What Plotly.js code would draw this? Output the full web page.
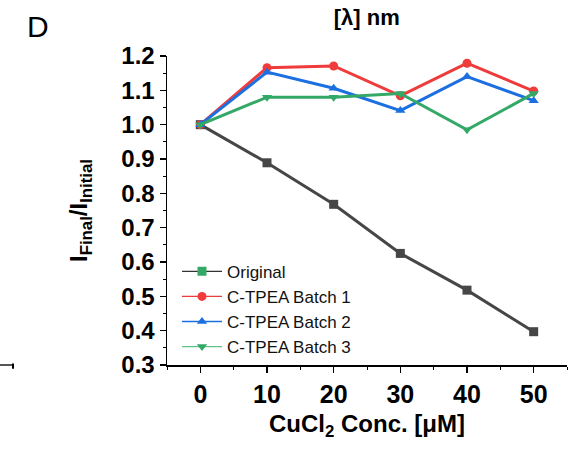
<!DOCTYPE html>
<html>
<head>
<meta charset="utf-8">
<script src="https://cdn.plot.ly/plotly-3.0.1.min.js"></script>
<style>html,body{margin:0;padding:0;background:#fff;}#chart{width:585px;height:449px;}</style>
</head>
<body>
<div id="chart"></div>
<script>
const conc = [0, 10, 20, 30, 40, 50];
const original = [1.0, 0.889, 0.768, 0.625, 0.518, 0.397];
const batch1 = [1.0, 1.166, 1.171, 1.084, 1.179, 1.098];
const batch2 = [1.0, 1.153, 1.106, 1.041, 1.140, 1.070];
const batch3 = [1.0, 1.080, 1.080, 1.091, 0.985, 1.091];
const seriesNames = ["Original", "C-TPEA Batch 1", "C-TPEA Batch 2", "C-TPEA Batch 3"];
const xTicks = [0, 10, 20, 30, 40, 50];
const yTicks = [0.3, 0.4, 0.5, 0.6, 0.7, 0.8, 0.9, 1.0, 1.1, 1.2];

const gray = '#464646', red = '#ef3b3b', blue = '#1c6fe0', green = '#33a867';
const series = [
  {y: original, color: gray, sym: 'square', legMarker: green, legLine: '#333333'},
  {y: batch1, color: red, sym: 'circle', legMarker: red, legLine: red},
  {y: batch2, color: blue, sym: 'triangle-up', legMarker: blue, legLine: blue},
  {y: batch3, color: green, sym: 'triangle-down', legMarker: green, legLine: '#5cc48a'}
];
const traces = [];
series.forEach((s, i) => {
  traces.push({
    x: conc, y: s.y, type: 'scatter', mode: 'lines+markers', showlegend: false,
    line: {color: s.color, width: 3}, marker: {symbol: s.sym, size: 9, color: s.color},
    name: seriesNames[i]
  });
});
series.forEach((s, i) => {
  traces.push({
    x: [null], y: [null], type: 'scatter', mode: 'lines+markers', name: seriesNames[i],
    line: {color: s.legLine, width: 1.3}, marker: {symbol: s.sym, size: 9, color: s.legMarker}
  });
});

const FAM = 'Liberation Sans, Arial, sans-serif';
const layout = {
  width: 585, height: 449,
  margin: {l: 167, r: 18, t: 56, b: 84},
  paper_bgcolor: '#fff', plot_bgcolor: '#fff',
  showlegend: true,
  legend: {x: 0.025, y: 0.36, xanchor: 'left', yanchor: 'top', bgcolor: 'rgba(0,0,0,0)',
           font: {family: FAM, size: 17, color: '#111'},
           tracegroupgap: 0, itemwidth: 40},
  xaxis: {
    range: [-5, 55], tickvals: xTicks, ticktext: xTicks.map(String),
    showgrid: false, zeroline: false, showline: true, linecolor: '#000', linewidth: 1.5,
    ticks: 'outside', ticklen: 6, tickwidth: 1.5, tickcolor: '#000',
    minor: {dtick: 5, tick0: 0, ticks: 'outside', ticklen: 3, tickwidth: 1, tickcolor: '#000', showgrid: false},
    tickfont: {family: FAM, size: 25, color: '#000', weight: 'bold'},
    title: {text: 'CuCl<sub>2</sub> Conc. [μM]', font: {family: FAM, size: 24, color: '#000', weight: 'bold'}, standoff: 8}
  },
  yaxis: {
    range: [0.3, 1.2], tickvals: yTicks, ticktext: yTicks.map(v => v.toFixed(1)),
    showgrid: false, zeroline: false, showline: true, linecolor: '#000', linewidth: 1.5,
    ticks: 'outside', ticklen: 6, tickwidth: 1.5, tickcolor: '#000',
    minor: {dtick: 0.05, tick0: 0.3, ticks: 'outside', ticklen: 3, tickwidth: 1, tickcolor: '#000', showgrid: false},
    tickfont: {family: FAM, size: 24, color: '#000', weight: 'bold'},
    title: {text: 'I<sub>Final</sub>/I<sub>Initial</sub>', font: {family: FAM, size: 24, color: '#000', weight: 'bold'}, standoff: 27}
  },
  title: {text: '[λ] nm', x: 0.627, xanchor: 'center', y: 0.962, yanchor: 'middle',
          font: {family: FAM, size: 22, color: '#000', weight: 'bold'}},
  annotations: [
    {text: 'D', xref: 'paper', yref: 'paper', x: -0.355, y: 1.094, xanchor: 'left', yanchor: 'middle', showarrow: false,
     font: {family: FAM, size: 30, color: '#000'}}
  ],
  shapes: [
    {type: 'line', xref: 'paper', yref: 'paper', x0: -0.4175, x1: -0.385, y0: 0, y1: 0, line: {color: '#555', width: 2}},
    {type: 'line', xref: 'paper', yref: 'paper', x0: -0.385, x1: -0.385, y0: 0.005, y1: -0.012, line: {color: '#000', width: 2}}
  ]
};
Plotly.newPlot('chart', traces, layout, {displayModeBar: false, staticPlot: true});
</script>
</body>
</html>
